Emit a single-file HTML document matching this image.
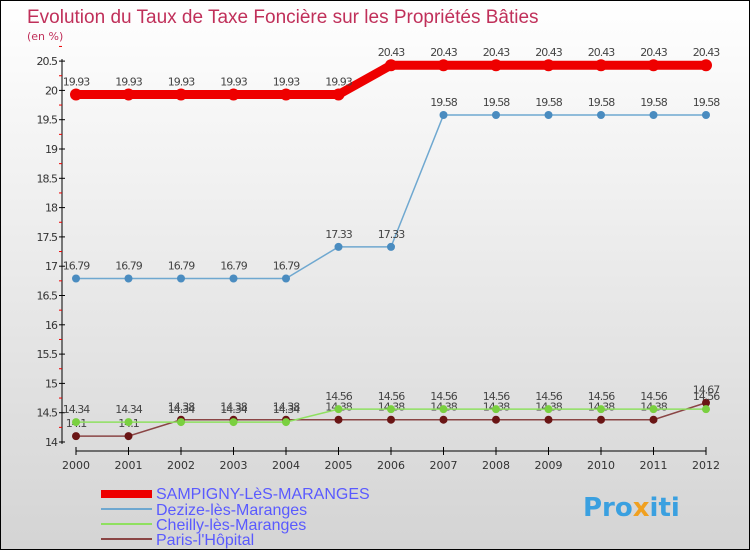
<!DOCTYPE html>
<html><head><meta charset="utf-8"><style>
body{margin:0;}
#c{width:748px;height:548px;border:1px solid #000;background:linear-gradient(#fff,#d4d4d4);position:relative;font-family:"DejaVu Sans","Liberation Sans",sans-serif;}
svg text{font-family:"DejaVu Sans","Liberation Sans",sans-serif;}
</style></head><body>
<div id="c">
<svg id="s" width="748" height="548" xmlns="http://www.w3.org/2000/svg">
<text x="26" y="22" font-size="19" fill="#c0305a" style="font-family:'Liberation Sans',sans-serif">Evolution du Taux de Taxe Foncière sur les Propriétés Bâties</text>
<text x="26" y="39" font-size="11" fill="#c0305a">(en %)</text>
<g id="axes"></g><g id="series"></g>
<g>
<rect x="100" y="489" width="51" height="8" fill="#e00"/>
<text x="155" y="498" font-size="16" fill="#5a5aff" style="font-family:'Liberation Sans',sans-serif">SAMPIGNY-LèS-MARANGES</text>
<line x1="100" y1="508" x2="151" y2="508" stroke="#6fa8d0" stroke-width="2"/>
<text x="155" y="514" font-size="16" fill="#5a5aff" style="font-family:'Liberation Sans',sans-serif">Dezize-lès-Maranges</text>
<line x1="100" y1="523" x2="151" y2="523" stroke="#8fe060" stroke-width="2"/>
<text x="155" y="529" font-size="16" fill="#5a5aff" style="font-family:'Liberation Sans',sans-serif">Cheilly-lès-Maranges</text>
<line x1="100" y1="538" x2="151" y2="538" stroke="#8a4545" stroke-width="2"/>
<text x="155" y="544" font-size="16" fill="#5a5aff" style="font-family:'Liberation Sans',sans-serif">Paris-l'Hôpital</text>
</g>
<text x="582" y="515" font-size="26" font-weight="bold" fill="#3aa0e0">Pro<tspan fill="#f0a020">x</tspan>iti</text>
</svg></div>
<script>
const years=[2000,2001,2002,2003,2004,2005,2006,2007,2008,2009,2010,2011,2012];
const yTicks=[14,14.5,15,15.5,16,16.5,17,17.5,18,18.5,19,19.5,20,20.5];
const sampigny=[19.93,19.93,19.93,19.93,19.93,19.93,20.43,20.43,20.43,20.43,20.43,20.43,20.43];
const dezize=[16.79,16.79,16.79,16.79,16.79,17.33,17.33,19.58,19.58,19.58,19.58,19.58,19.58];
const cheilly=[14.34,14.34,14.34,14.34,14.34,14.56,14.56,14.56,14.56,14.56,14.56,14.56,14.56];
const paris=[14.1,14.1,14.38,14.38,14.38,14.38,14.38,14.38,14.38,14.38,14.38,14.38,14.67];
const NS="http://www.w3.org/2000/svg";
const xs=i=>75+i*52.5;
const ys=v=>441-(v-14)*58.6;
function mk(t,a,p){const e=document.createElementNS(NS,t);for(const k in a)e.setAttribute(k,a[k]);p.appendChild(e);return e;}
const ax=document.getElementById('axes');
let yl=mk('line',{x1:61,y1:58,x2:61,y2:443,stroke:'#000'},ax);


yTicks.forEach(v=>{
 mk('line',{x1:58,x2:64,y1:ys(v),y2:ys(v),stroke:'#000'},ax);
 mk('line',{x1:58,x2:61,y1:ys(v+0.25),y2:ys(v+0.25),stroke:'#e00'},ax);
 const t=mk('text',{x:56,y:ys(v)+4,'font-size':11,'text-anchor':'end',fill:'#333','letter-spacing':'-1'},ax);
 t.textContent=v;
 
 
});
let xl=mk('line',{x1:75,y1:450,x2:705,y2:450,stroke:'#000'},ax);


years.forEach((y,i)=>{
 mk('line',{x1:xs(i),x2:xs(i),y1:446,y2:454,stroke:'#000'},ax);
 const t=mk('text',{x:xs(i),y:468,'font-size':11,'text-anchor':'middle',fill:'#333'},ax);
 t.textContent=y;
 
 
});
const sg=document.getElementById('series');
function series(d,name,color,w,r,dot){
 const g=mk('g',{},sg);
 
 
 mk('polyline',{points:d.map((v,i)=>xs(i)+','+ys(v)).join(' '),fill:'none',stroke:color,'stroke-width':w},g);
 d.forEach((v,i)=>{
  const c=mk('circle',{cx:xs(i),cy:ys(v),r:r,fill:dot},g);
  
  
  const t=mk('text',{x:xs(i),y:ys(v)-9,'font-size':11,'text-anchor':'middle',fill:'#444','letter-spacing':'-1'},g);
  t.textContent=v;
  
  
 });
}
series(paris,'paris','#8a4545',1.5,4,'#6a1515');
series(cheilly,'cheilly','#8fe060',1.5,4,'#7ad040');
series(dezize,'dezize','#6fa8d0',1.5,4,'#4a8cc0');
series(sampigny,'sampigny','#e00',9,6,'#e00');
</script>
</body></html>
